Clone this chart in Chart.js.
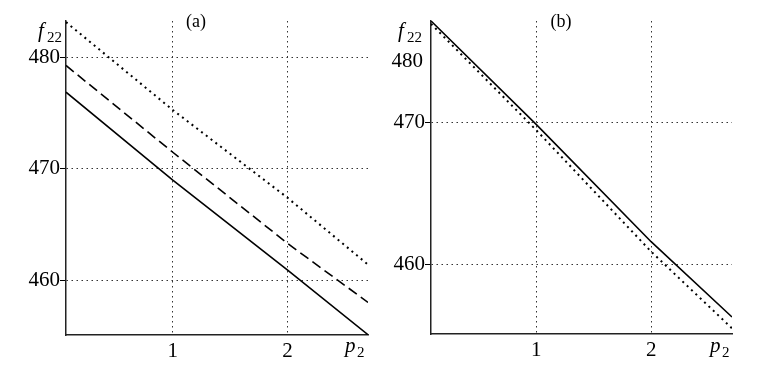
<!DOCTYPE html>
<html>
<head>
<meta charset="utf-8">
<script src="https://cdn.jsdelivr.net/npm/chart.js@4/dist/chart.umd.min.js"></script>
<style>
  body { margin: 0; background: #fff; }
  .panel { position: absolute; top: 0; width: 380px; height: 370px; }
</style>
</head>
<body>
<div class="panel" style="left:0"><canvas id="chartA" width="380" height="370"></canvas></div>
<div class="panel" style="left:380px"><canvas id="chartB" width="380" height="370"></canvas></div>
<script>
// panel (a)
const xA = [0.07, 1, 2, 2.7];
const solidA = [476.9, 469.0, 460.9, 455.1];
const dashedA = [479.3, 471.5, 463.3, 458.0];
const dottedA = [483.2, 475.3, 467.4, 461.4];
const yTicksA = [460, 470, 480];

// panel (b)
const xB = [0.087, 1, 2, 2.7];
const solidB = [477.2, 469.9, 461.6, 456.3];
const dottedB = [477.0, 469.5, 460.9, 455.5];
const yTicksB = [460, 470];

const xTicks = [1, 2];

const SERIF = "'Liberation Serif', 'DejaVu Serif', serif";

// extra text: panel titles, axis names
const textPlugin = {
  id: "texts",
  afterDraw(chart) {
    const items = chart.options.plugins.texts.items || [];
    const ctx = chart.ctx;
    ctx.save();
    ctx.fillStyle = "#000";
    items.forEach(t => {
      ctx.font = t.font;
      ctx.textAlign = t.align || "left";
      ctx.textBaseline = "alphabetic";
      ctx.fillText(t.text, t.x, t.y);
    });
    ctx.restore();
  }
};

function pts(xs, ys) {
  return xs.map((x, i) => ({ x: x, y: ys[i] }));
}

function line(xs, ys, dash, width) {
  return {
    data: pts(xs, ys),
    borderColor: "#000",
    borderWidth: width,
    borderDash: dash,
    pointRadius: 0,
    tension: 0,
    fill: false
  };
}

function makeChart(id, cfg) {
  return new Chart(document.getElementById(id), {
    type: "line",
    data: { datasets: cfg.datasets },
    plugins: [textPlugin],
    options: {
      responsive: false,
      animation: false,
      layout: { padding: cfg.padding },
      plugins: {
        legend: { display: false },
        tooltip: { enabled: false },
        texts: { items: cfg.texts }
      },
      scales: {
        x: {
          type: "linear",
          min: cfg.xMin,
          max: cfg.xMax,
          afterBuildTicks: s => { s.ticks = xTicks.map(v => ({ value: v })); },
          afterFit: s => { s.height = cfg.xHeight; },
          ticks: {
            color: "#000",
            padding: 4,
            font: { family: SERIF, size: 21 },
            callback: v => String(v)
          },
          grid: {
            color: "#333",
            lineWidth: 1,
            drawTicks: false
          },
          border: { display: true, color: "#222", width: 1.5, dash: [1.5, 3.5] }
        },
        y: {
          type: "linear",
          min: cfg.yMin,
          max: cfg.yMax,
          afterBuildTicks: s => { s.ticks = cfg.yTicks.map(v => ({ value: v })); },
          afterFit: s => { s.width = cfg.yWidth; },
          ticks: {
            color: "#000",
            padding: 0,
            font: { family: SERIF, size: 21 },
            callback: v => String(v)
          },
          grid: {
            color: "#333",
            lineWidth: 1,
            drawTicks: true,
            tickLength: 6,
            tickColor: "#000",
            tickWidth: 1,
            tickBorderDash: []
          },
          border: { display: true, color: "#222", width: 1.5, dash: [1.5, 3.5] }
        }
      }
    }
  });
}

makeChart("chartA", {
  datasets: [
    line(xA, solidA, [], 1.6),
    line(xA, dashedA, [10, 5], 1.6),
    line(xA, dottedA, [2, 4], 2)
  ],
  padding: { left: 0, top: 21, right: 12, bottom: 0 },
  xMin: 0.07, xMax: 2.7,
  yMin: 455.07, yMax: 483.3,
  yTicks: yTicksA,
  yWidth: 66, xHeight: 35,
  texts: [
    { text: "f", x: 38, y: 37, font: "italic 21px " + SERIF },
    { text: "22", x: 47, y: 42, font: "15px " + SERIF },
    { text: "(a)", x: 196, y: 27, align: "center", font: "18px " + SERIF },
    { text: "p", x: 345, y: 352, font: "italic 21px " + SERIF },
    { text: "2", x: 357, y: 357, font: "15px " + SERIF }
  ]
});

makeChart("chartB", {
  datasets: [
    line(xB, solidB, [], 1.6),
    line(xB, dottedB, [2, 4], 2)
  ],
  padding: { left: 0, top: 21, right: 28, bottom: 0 },
  xMin: 0.087, xMax: 2.7,
  yMin: 455.1, yMax: 477.2,
  yTicks: yTicksB,
  yWidth: 51, xHeight: 36,
  texts: [
    { text: "f", x: 18, y: 37, font: "italic 21px " + SERIF },
    { text: "22", x: 27, y: 42, font: "15px " + SERIF },
    { text: "480", x: 43, y: 67, align: "right", font: "21px " + SERIF },
    { text: "(b)", x: 181, y: 27, align: "center", font: "18px " + SERIF },
    { text: "p", x: 330, y: 352, font: "italic 21px " + SERIF },
    { text: "2", x: 342, y: 357, font: "15px " + SERIF }
  ]
});
</script>
</body>
</html>
